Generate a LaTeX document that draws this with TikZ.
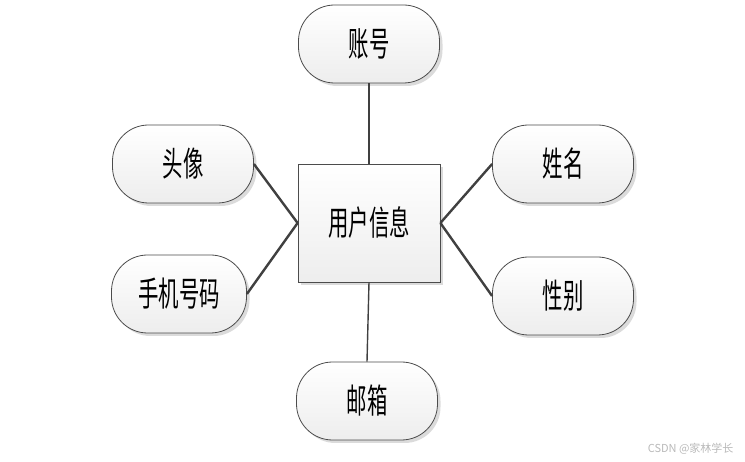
\documentclass[tikz,border=0pt]{standalone}
\usepackage{fontspec}
\newfontfamily\cjk{Noto Sans CJK SC}
\usepackage{graphicx}
\usetikzlibrary{shadows}
\newcommand{\sq}[1]{\scalebox{0.6}[1]{#1}}
\begin{document}
\begin{tikzpicture}[x=1pt,y=-1pt,
  base/.style={draw=gray!60!black, line width=0.8pt, top color=white, bottom color=gray!14,
    font=\cjk\fontsize{34}{34}\selectfont, inner sep=0pt,
    drop shadow={shadow xshift=3pt, shadow yshift=-3pt, fill=gray!35, opacity=0.8}},
  attr/.style={base, rounded corners=36pt, minimum width=141pt, minimum height=78pt},
  ent/.style={base, minimum width=142pt, minimum height=118pt},
  link/.style={draw=black!75, line width=2.4pt},
]
\useasboundingbox (0,0) rectangle (745,462);
\node[ent]  (user)  at (369,223) {\sq{用户信息}};
\node[attr] (acc)   at (369,44)  {\sq{账号}};
\node[attr] (head)  at (183,164) {\sq{头像}};
\node[attr, minimum width=135pt] (phone) at (179,294) {\sq{手机号码}};
\node[attr] (name)  at (563,164) {\sq{姓名}};
\node[attr] (sex)   at (563,296) {\sq{性别}};
\node[attr] (mail)  at (367,401) {\sq{邮箱}};
\draw[link, line width=2pt] (acc.south) -- (user.north);
\draw[link] (head.east) -- (user.west);
\draw[link] (phone.east) -- (user.west);
\draw[link] (name.west) -- (user.east);
\draw[link] (sex.west) -- (user.east);
\draw[link, line width=1.4pt] (mail.north) -- (user.south);
\node[text=gray!55, font=\cjk\fontsize{11}{11}\selectfont, anchor=east] (wm) at (737,449) {CSDN @家林学长};
\end{tikzpicture}
\end{document}
